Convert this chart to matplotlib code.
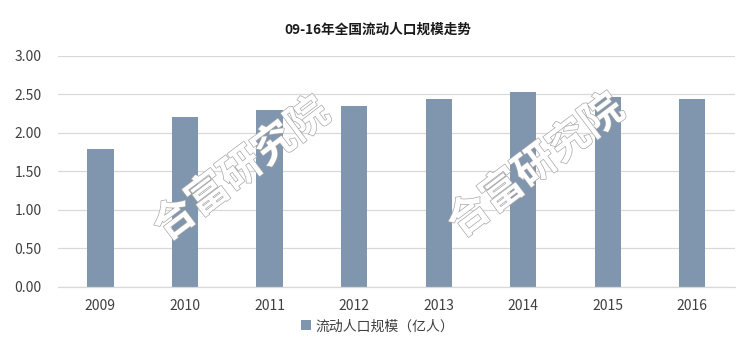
import matplotlib
matplotlib.use("Agg")
import matplotlib.pyplot as plt
import matplotlib.patheffects as pe

plt.rcParams['font.family'] = ['Noto Sans CJK SC', 'DejaVu Sans']

years = ['2009', '2010', '2011', '2012', '2013', '2014', '2015', '2016']
values = [1.79, 2.21, 2.30, 2.35, 2.44, 2.53, 2.47, 2.44]
title = '09-16年全国流动人口规模走势'
series_name = '流动人口规模（亿人）'
watermark = '合富研究院'

fig = plt.figure(figsize=(7.55, 3.47), dpi=100)
ax = fig.add_axes([0.077, 0.173, 0.896, 0.666])

bar_color = '#8096AE'
text_color = '#404040'
x = range(len(years))
ax.bar(x, values, width=0.31, color=bar_color, zorder=2, label=series_name)
ax.set_xlim(-0.5, len(years) - 0.5)
ax.set_ylim(0, 3.0)
ax.set_yticks([0, 0.5, 1.0, 1.5, 2.0, 2.5, 3.0])
ax.set_yticklabels([f'{v:.2f}' for v in [0, 0.5, 1.0, 1.5, 2.0, 2.5, 3.0]])
ax.set_xticks(list(x))
ax.set_xticklabels(years)
ax.tick_params(axis='both', length=0, labelsize=10, colors=text_color)
ax.tick_params(axis='x', pad=9)
ax.tick_params(axis='y', pad=12)
ax.grid(axis='y', color='#D9D9D9', linewidth=0.9, zorder=0)
for s in ['top', 'right', 'left']:
    ax.spines[s].set_visible(False)
ax.spines['bottom'].set_color('#D9D9D9')
ax.spines['bottom'].set_linewidth(0.9)

fig.text(0.5, 0.915, title, ha='center', va='center', fontsize=9.8,
         fontweight='bold', color='#1a1a1a')

leg = fig.legend(loc='center', bbox_to_anchor=(0.5, 0.06), frameon=False,
                 fontsize=10, handlelength=0.7, handleheight=0.7,
                 handletextpad=0.3)
for t in leg.get_texts():
    t.set_color(text_color)

for (wx, wy) in [(0.32, 0.51), (0.71, 0.52)]:
    fig.text(wx, wy, watermark, ha='center', va='center', fontsize=30,
             rotation=37, color='white', fontweight='bold', alpha=1.0,
             zorder=5,
             path_effects=[pe.Stroke(linewidth=1.0, foreground='#A8A8A8'),
                           pe.Normal()])

fig.savefig('out.png', dpi=100, facecolor='white')
